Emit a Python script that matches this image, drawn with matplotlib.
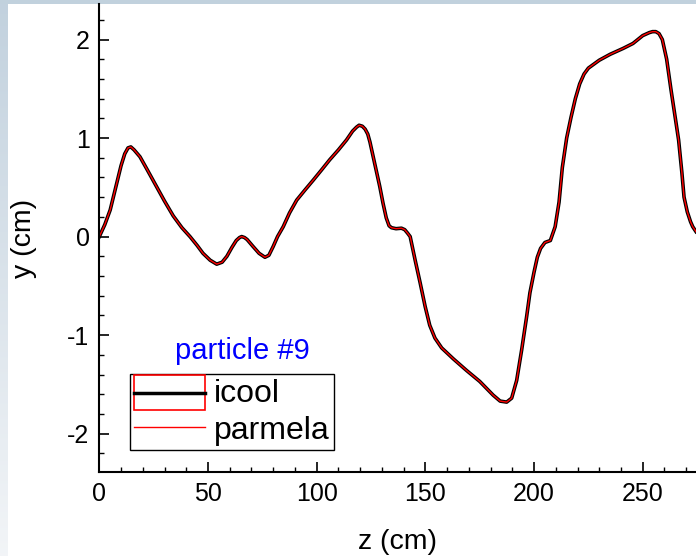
import numpy as np
import matplotlib
matplotlib.use("Agg")
import matplotlib.pyplot as plt
from matplotlib.legend_handler import HandlerBase
from matplotlib.patches import Rectangle
from matplotlib.lines import Line2D
from matplotlib.ticker import MultipleLocator

plt.rcParams['font.family'] = ['Liberation Sans', 'DejaVu Sans']
plt.rcParams['axes.unicode_minus'] = False

# trajectory of particle #9
z = [0, 2.5, 5, 8, 10, 11.7, 13.2, 14.5, 16, 18.7, 22, 26.5, 30, 34, 38,
     41.7, 45, 47.7, 51, 54, 56.5, 58.7, 61, 63, 64.5, 65.5, 66.8, 68,
     70.7, 73.5, 76.2, 78, 80, 82, 84.6, 87.5, 90.8, 94.5, 98.3, 102, 106,
     110, 113.7, 116.5, 118.3, 119.5, 121, 122.3, 123.5, 124.5, 126, 127.5,
     129, 130.5, 132, 133.3, 134.4, 136.5, 139, 140.5, 141.8, 143, 145.3,
     147.6, 149.9, 152, 154.4, 157.5, 162.8, 169, 175, 181.2, 184.4, 187.4,
     189.7, 192, 194.3, 196.6, 198.1, 200, 201.5, 203, 205, 207.5, 209.7,
     211.5, 213, 215, 217, 219, 221, 223, 225, 227.5, 230, 235, 241, 245.5,
     250, 253, 254.5, 256, 257.5, 259, 261, 263, 265, 266.5, 268, 269,
     270.5, 272, 273, 274.5]
y_icool = [0, 0.12, 0.27, 0.54, 0.72, 0.84, 0.90, 0.91, 0.88, 0.81, 0.68,
           0.50, 0.36, 0.21, 0.09, 0.0, -0.09, -0.17, -0.24, -0.28, -0.26,
           -0.20, -0.11, -0.04, -0.01, 0.0, -0.01, -0.03, -0.10, -0.17,
           -0.21, -0.19, -0.10, 0.0, 0.10, 0.24, 0.37, 0.47, 0.57, 0.67,
           0.78, 0.88, 0.98, 1.07, 1.11, 1.13, 1.12, 1.09, 1.04, 0.96, 0.81,
           0.66, 0.51, 0.34, 0.19, 0.11, 0.09, 0.08, 0.085, 0.07, 0.035,
           0.0, -0.24, -0.47, -0.71, -0.90, -1.03, -1.13, -1.24, -1.36,
           -1.47, -1.61, -1.67, -1.68, -1.64, -1.46, -1.15, -0.81, -0.57,
           -0.36, -0.21, -0.12, -0.06, -0.04, 0.10, 0.35, 0.70, 1.00, 1.21,
           1.40, 1.55, 1.65, 1.71, 1.75, 1.79, 1.85, 1.91, 1.96, 2.04, 2.07,
           2.08, 2.08, 2.06, 2.00, 1.80, 1.49, 1.20, 0.98, 0.65, 0.40, 0.25,
           0.15, 0.10, 0.05]
y_parmela = list(y_icool)


class IcoolHandler(HandlerBase):
    # linha preta dentro de um retangulo vermelho
    def create_artists(self, legend, orig_handle, xdescent, ydescent,
                       width, height, fontsize, trans):
        ext = 0.3 * height
        y0 = -ydescent - ext - 0.1 * height
        rect = Rectangle((-xdescent, y0), width, height + 2 * ext,
                         facecolor='none', edgecolor='red', lw=1.2,
                         transform=trans)
        ln = Line2D([-xdescent, -xdescent + width],
                    [y0 + height / 2 + ext] * 2, color='black', lw=2.5,
                    transform=trans)
        return [rect, ln]


fig = plt.figure(figsize=(6.96, 5.56), dpi=100, facecolor='white')

# fundo azulado nas bordas
bg = np.zeros((556, 696, 4))
top = np.array([0.76, 0.82, 0.87])
bot = np.array([0.95, 0.96, 0.97])
for r in range(556):
    c = top + (bot - top) * r / 555
    bg[r, :8, :3] = c
    bg[r, :8, 3] = 1
bg[:4, :, :3] = top
bg[:4, :, 3] = 1
fig.figimage(bg, xo=0, yo=0, origin='upper', zorder=-1)

ax = fig.add_axes([0.1427, 0.151, 0.8573, 0.8417])
ax.set_facecolor('white')
ax.plot(z, y_icool, color='black', lw=2.6, label='icool')
ax.plot(z, y_parmela, color='red', lw=1.0, label='parmela')

ax.set_xlim(0, 274.5)
ax.set_ylim(-2.39, 2.36)
ax.xaxis.set_major_locator(MultipleLocator(50))
ax.xaxis.set_minor_locator(MultipleLocator(10))
ax.yaxis.set_major_locator(MultipleLocator(1))
ax.yaxis.set_minor_locator(MultipleLocator(0.2))
ax.tick_params(which='major', direction='in', length=7, width=1.2,
               labelsize=18)
ax.tick_params(which='minor', direction='in', length=3.5, width=1.0)
ax.tick_params(axis='x', which='major', pad=7)
ax.tick_params(axis='y', which='major', pad=7)
ax.spines['top'].set_visible(False)
ax.spines['right'].set_visible(False)
ax.spines['left'].set_linewidth(1.5)
ax.spines['bottom'].set_linewidth(1.5)

ax.set_xlabel('z (cm)', fontsize=20.5, labelpad=17)
ax.set_ylabel('y (cm)', fontsize=20.5, labelpad=22)

ax.text(0.24, 0.2585, 'particle #9', color='blue', fontsize=21,
        ha='center', va='center', transform=ax.transAxes)

h_icool = Line2D([], [], color='black')
h_parm = Line2D([], [], color='red', lw=1.0)
leg = ax.legend([h_icool, h_parm], ['icool', 'parmela'],
                handler_map={h_icool: IcoolHandler()},
                loc='lower left', bbox_to_anchor=(0.0514, 0.047),
                borderaxespad=0, fontsize=23, fancybox=False,
                framealpha=1, edgecolor='black', handlelength=2.2,
                handletextpad=0.28, borderpad=0.14, labelspacing=0.22)
leg.get_frame().set_linewidth(1.0)

fig.savefig('out.png', dpi=100)
